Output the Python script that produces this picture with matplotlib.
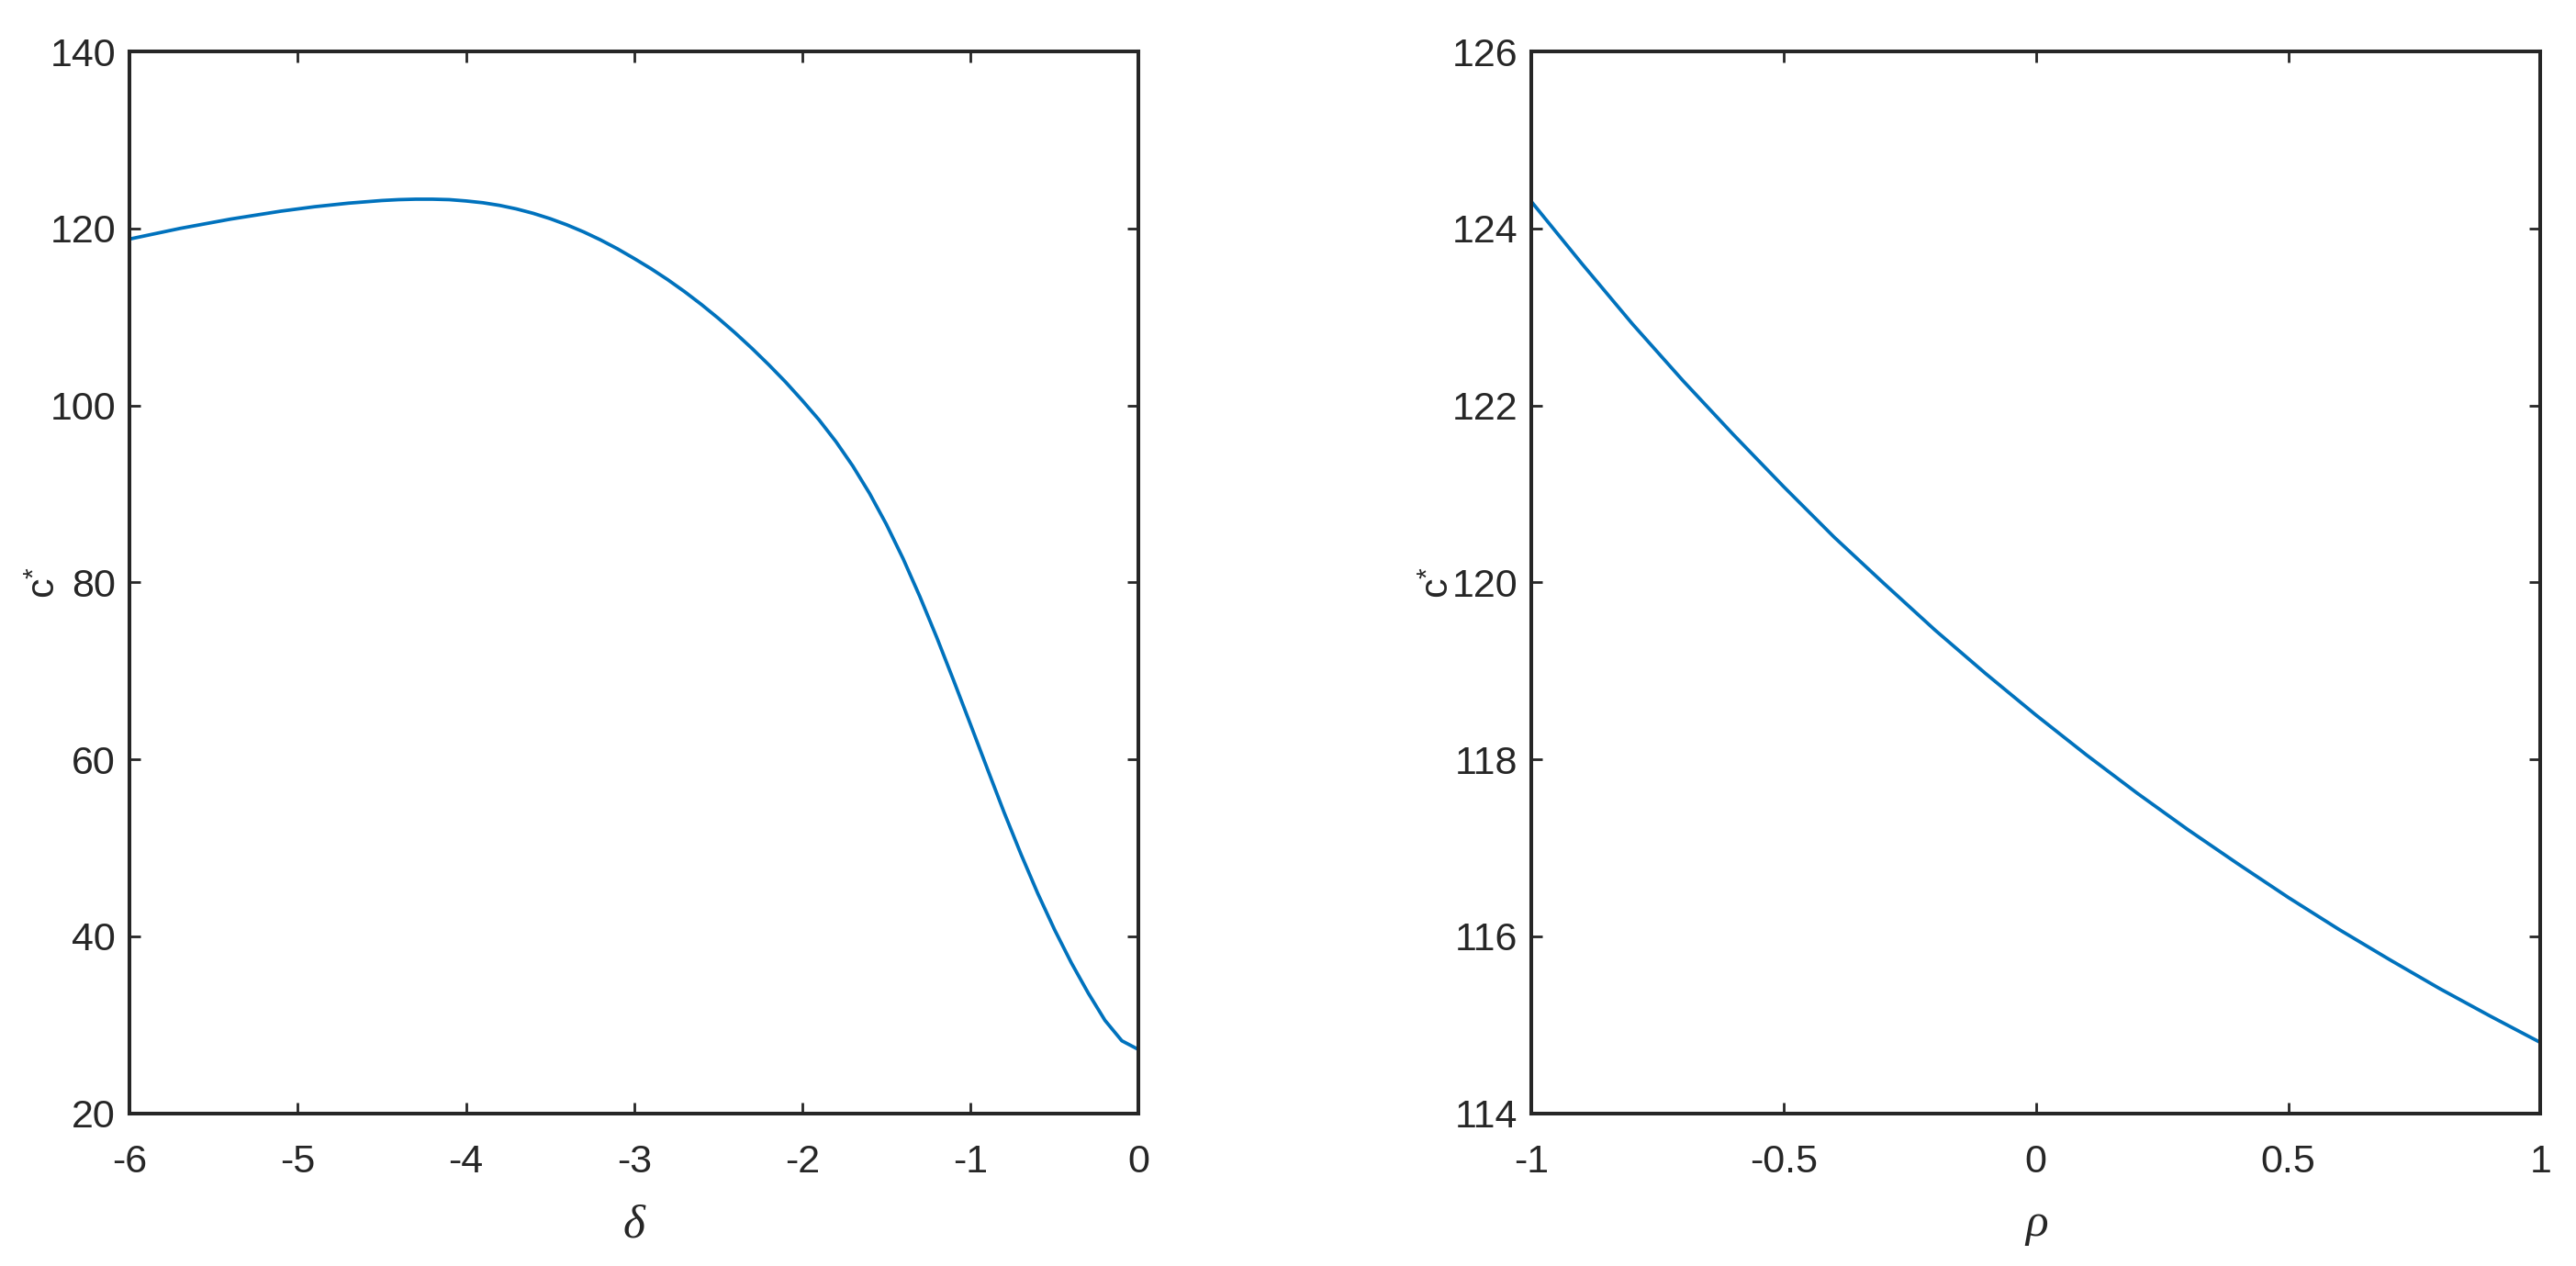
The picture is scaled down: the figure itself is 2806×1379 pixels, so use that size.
import matplotlib
matplotlib.use("Agg")
import matplotlib.pyplot as plt

# ---- data ----
delta = [-6.0, -5.9, -5.8, -5.7, -5.6, -5.5, -5.4, -5.3, -5.2, -5.1,
         -5.0, -4.9, -4.8, -4.7, -4.6, -4.5, -4.4, -4.3, -4.2, -4.1,
         -4.0, -3.9, -3.8, -3.7, -3.6, -3.5, -3.4, -3.3, -3.2, -3.1,
         -3.0, -2.9, -2.8, -2.7, -2.6, -2.5, -2.4, -2.3, -2.2, -2.1,
         -2.0, -1.9, -1.8, -1.7, -1.6, -1.5, -1.4, -1.3, -1.2, -1.1,
         -1.0, -0.9, -0.8, -0.7, -0.6, -0.5, -0.4, -0.3, -0.2, -0.1, 0.0]
c_delta = [118.8, 119.2, 119.6, 120.0, 120.35, 120.7, 121.05, 121.35, 121.65, 121.95,
           122.2, 122.45, 122.65, 122.85, 123.0, 123.15, 123.25, 123.3, 123.3, 123.25,
           123.1, 122.9, 122.6, 122.2, 121.7, 121.1, 120.4, 119.6, 118.7, 117.7,
           116.6, 115.45, 114.2, 112.85, 111.4, 109.85, 108.2, 106.45, 104.6, 102.65,
           100.55, 98.35, 95.9, 93.15, 90.05, 86.55, 82.65, 78.35, 73.75, 68.9,
           63.95, 58.95, 54.0, 49.3, 44.85, 40.75, 37.0, 33.6, 30.5, 28.2, 27.2]

rho = [-1.0, -0.9, -0.8, -0.7, -0.6, -0.5, -0.4, -0.3, -0.2, -0.1, 0.0,
       0.1, 0.2, 0.3, 0.4, 0.5, 0.6, 0.7, 0.8, 0.9, 1.0]
c_rho = [124.30, 123.60, 122.92, 122.28, 121.67, 121.08, 120.51, 119.98, 119.46, 118.97, 118.50,
         118.05, 117.62, 117.21, 116.82, 116.44, 116.08, 115.74, 115.41, 115.10, 114.80]

xticks_left = [-6, -5, -4, -3, -2, -1, 0]
yticks_left = [20, 40, 60, 80, 100, 120, 140]
xticks_right = [-1, -0.5, 0, 0.5, 1]
xticklabels_right = ['-1', '-0.5', '0', '0.5', '1']
yticks_right = [114, 116, 118, 120, 122, 124, 126]

# ---- style ----
plt.rcParams['font.family'] = ['Liberation Sans Narrow', 'Liberation Sans', 'DejaVu Sans']
plt.rcParams['mathtext.fontset'] = 'custom'
plt.rcParams['mathtext.it'] = 'Liberation Serif:italic'
plt.rcParams['mathtext.rm'] = 'Liberation Sans'
DARK = '#262626'
BLUE = '#0072BD'

W, H = 2806, 1379
fig = plt.figure(figsize=(W / 100, H / 100), dpi=100)

ax_l = fig.add_axes([141.3 / W, (H - 1212.7) / H, 1099 / W, 1156.7 / H])
ax_r = fig.add_axes([1668.3 / W, (H - 1212.7) / H, 1099 / W, 1156.7 / H])

def style(ax):
    for s in ax.spines.values():
        s.set_linewidth(2.9)
        s.set_color(DARK)
    ax.tick_params(direction='in', top=True, right=True, length=8.8, width=2.0,
                   colors=DARK, labelsize=31, labelcolor=DARK)
    ax.tick_params(axis='x', pad=24)
    ax.tick_params(axis='y', pad=11)

ax_l.plot(delta, c_delta, color=BLUE, lw=2.7)
ax_l.set_xlim(-6, 0)
ax_l.set_ylim(20, 140)
ax_l.set_xticks(xticks_left)
ax_l.set_xticklabels([str(t) for t in xticks_left])
ax_l.set_yticks(yticks_left)
style(ax_l)
ax_l.set_xlabel(r'$\delta$', fontsize=37, color=DARK)
ax_l.set_ylabel(r'c$^{*}$', fontsize=31, color=DARK)
ax_l.xaxis.set_label_coords(0.5, -0.084)
ax_l.yaxis.set_label_coords(-0.066, 0.5)

ax_r.plot(rho, c_rho, color=BLUE, lw=2.7)
ax_r.set_xlim(-1, 1)
ax_r.set_ylim(114, 126)
ax_r.set_xticks(xticks_right)
ax_r.set_xticklabels(xticklabels_right)
ax_r.set_yticks(yticks_right)
style(ax_r)
ax_r.set_xlabel(r'$\rho$', fontsize=37, color=DARK)
ax_r.set_ylabel(r'c$^{*}$', fontsize=31, color=DARK)
ax_r.xaxis.set_label_coords(0.5, -0.084)
ax_r.yaxis.set_label_coords(-0.074, 0.5)

fig.savefig('out.png', dpi=100, facecolor='white')
